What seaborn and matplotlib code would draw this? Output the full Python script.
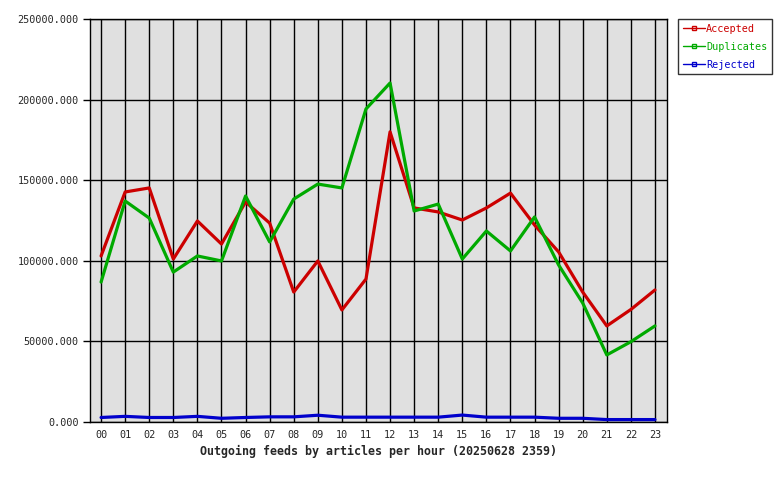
import matplotlib
matplotlib.use("Agg")
import matplotlib.pyplot as plt
import seaborn as sns
import pandas as pd
from matplotlib.lines import Line2D

hours = ["00","01","02","03","04","05","06","07","08","09","10","11",
         "12","13","14","15","16","17","18","19","20","21","22","23"]
accepted = [103000, 142700, 145200, 101100, 124700, 110400, 136500, 123400,
            80600, 99900, 69500, 88700, 180000, 132800, 130300, 125300,
            132800, 142000, 122200, 105500, 80600, 59600, 69800, 81900]
duplicates = [86800, 137100, 126500, 93000, 103000, 99900, 140200, 111700,
              138300, 147600, 145200, 194200, 210300, 130900, 135200, 101100,
              118500, 106100, 127200, 97400, 73800, 41600, 49800, 59600]
rejected = [2800, 3500, 2800, 2800, 3500, 2300, 2800, 3200, 3200, 4200, 3000, 3000,
            3000, 3000, 3000, 4300, 3000, 3000, 3000, 2300, 2300, 1500, 1500, 1500]
series_names = ["Accepted", "Duplicates", "Rejected"]
colors = ["#cc0000", "#00aa00", "#0000cc"]
yticks = [0, 50000, 100000, 150000, 200000, 250000]
xlabel = "Outgoing feeds by articles per hour (20250628 2359)"

rows = []
for name, vals in zip(series_names, [accepted, duplicates, rejected]):
    for i, v in enumerate(vals):
        rows.append({"hour": i, "value": v, "series": name})
df = pd.DataFrame(rows)

sns.set_style("white")
plt.rcParams["font.family"] = ["DejaVu Sans Mono"]

fig = plt.figure(figsize=(7.8, 4.8), dpi=100)
ax = fig.add_axes([90/780, 58/480, 577/780, 403/480])
ax.set_facecolor("#e0e0e0")

sns.lineplot(data=df, x="hour", y="value", hue="series", hue_order=series_names,
             palette=colors, linewidth=2.3, ax=ax, legend=False, zorder=3)

ax.set_xlim(-0.46, 23.5)
ax.set_ylim(0, 250000)
ax.set_xticks(range(24))
ax.set_xticklabels(hours, fontsize=7.3)
ax.set_yticks(yticks)
ax.set_yticklabels([f"{t:.3f}" for t in yticks], fontsize=7.3)
ax.tick_params(axis="x", length=0, pad=6)
ax.tick_params(axis="y", length=5, width=1, color="black", direction="out", pad=3, left=True)
ax.grid(True, color="black", linewidth=1, zorder=1)
ax.set_axisbelow(True)
for s in ax.spines.values():
    s.set_color("black")
    s.set_linewidth(1)
ax.set_xlabel(xlabel, fontsize=8.4, fontweight="bold", labelpad=3)
ax.set_ylabel("")

handles = [Line2D([0], [0], color=c, linewidth=1, marker="s", markersize=3,
                  markerfacecolor="none", markeredgecolor=c) for c in colors]
leg = fig.legend(handles, series_names, loc="upper left",
                 bbox_to_anchor=(678/780, 1 - 19/480), frameon=True, fancybox=False,
                 edgecolor="black", fontsize=7.3, handlelength=2.2, handletextpad=0.1,
                 borderpad=0.45, labelspacing=0.8, borderaxespad=0)
leg.get_frame().set_linewidth(1)
for t, c in zip(leg.get_texts(), colors):
    t.set_color(c)

fig.savefig("out.png", dpi=100, facecolor="white")
